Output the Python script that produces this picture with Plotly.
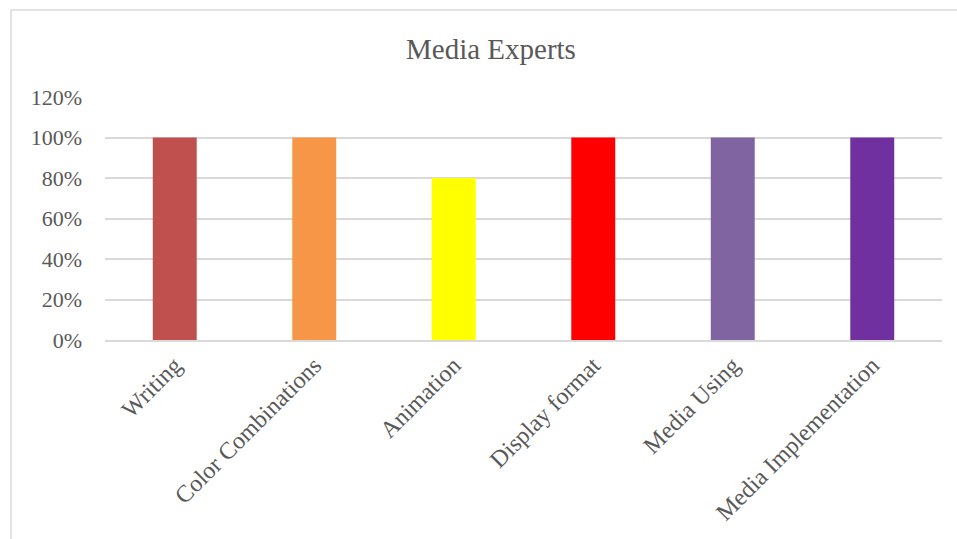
import plotly.graph_objects as go

categories = ["Writing", "Color Combinations", "Animation", "Display format", "Media Using", "Media Implementation"]
values = [1.0, 1.0, 0.8, 1.0, 1.0, 1.0]
colors = ["#C0504D", "#F79646", "#FFFF00", "#FF0000", "#8064A2", "#7030A0"]

font_family = "Liberation Serif, Times New Roman, serif"

fig = go.Figure(go.Bar(x=categories, y=values, marker=dict(color=colors, line=dict(width=0)), width=0.315))

fig.update_layout(
    width=957, height=539,
    margin=dict(l=105, r=15, t=97, b=199),
    paper_bgcolor="white", plot_bgcolor="white",
    title=dict(text="Media Experts", xref="container", x=0.513, xanchor="center", y=0.91, yanchor="middle",
               font=dict(family=font_family, size=29, color="#595959")),
    font=dict(family=font_family, size=21, color="#595959"),
    showlegend=False,
    xaxis=dict(tickangle=-45, showgrid=False, showline=True, linecolor="#d9d9d9", linewidth=1.5,
               tickfont=dict(family=font_family, size=24, color="#595959")),
    yaxis=dict(range=[0, 1.2], dtick=0.2, tickformat=".0%", showgrid=True, gridcolor="#d9d9d9",
               gridwidth=1.5, zeroline=False, ticklabelstandoff=22,
               tickfont=dict(family=font_family, size=22, color="#595959")),
    shapes=[dict(type="rect", xref="paper", yref="paper", x0=-0.1123, x1=1.03, y0=-0.85, y1=1.358,
                 line=dict(color="#d9d9d9", width=1.5), layer="below")],
)

fig.write_html("out.html")
